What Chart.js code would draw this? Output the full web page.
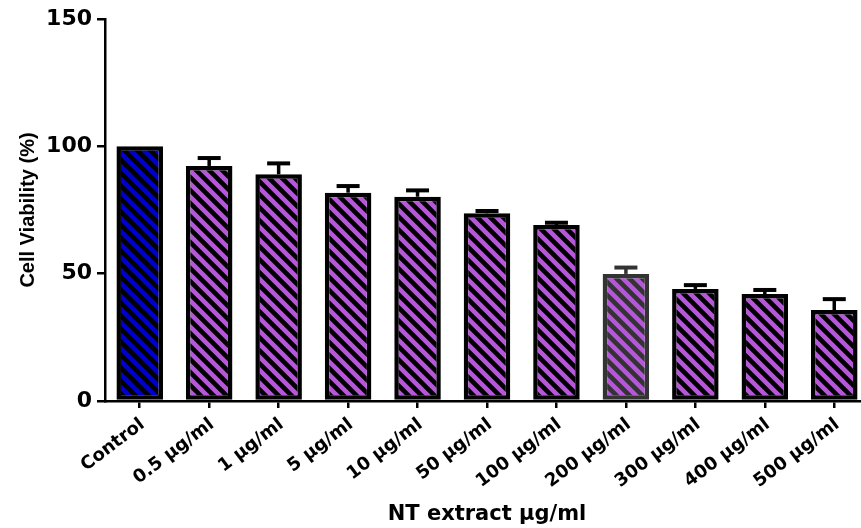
<!DOCTYPE html>
<html>
<head>
<meta charset="utf-8">
<script src="https://cdn.jsdelivr.net/npm/chart.js@4.4.0/dist/chart.umd.min.js"></script>
<style>
  html, body { margin: 0; padding: 0; background: #fff; overflow: hidden; }
  #wrap { width: 869px; height: 528px; }
</style>
</head>
<body>
<div id="wrap"><canvas id="barChart" width="869" height="528"></canvas></div>
<script>
/* data */
const doses = ["Control", "0.5 µg/ml", "1 µg/ml", "5 µg/ml", "10 µg/ml", "50 µg/ml",
               "100 µg/ml", "200 µg/ml", "300 µg/ml", "400 µg/ml", "500 µg/ml"];
const viability = [100, 92.3, 89.0, 81.8, 80.2, 73.7, 69.1, 49.9, 44.0, 42.0, 35.7];
const sdValues = [0, 3.1, 4.3, 2.6, 2.5, 0.9, 0.9, 2.5, 1.5, 1.6, 4.3];
const yTicks = [0, 50, 100, 150];

const blue = "#0000cc";
const purple = "#b656d9";

/* diagonal hatch fill, like the prism bars */
const stripes = (bg, line) => {
    const n = 13;
    const c = document.createElement('canvas');
    c.width = n; c.height = n;
    const g = c.getContext('2d');
    g.fillStyle = bg;
    g.fillRect(0, 0, n, n);
    g.strokeStyle = line;
    g.lineWidth = 4.6;
    g.beginPath();
    g.moveTo(-n / 2, n / 2); g.lineTo(n / 2, n * 1.5);
    g.moveTo(0, 0); g.lineTo(n, n);
    g.moveTo(n / 2, -n / 2); g.lineTo(n * 1.5, n / 2);
    g.stroke();
    return g.createPattern(c, 'repeat');
}

const edgeColors = doses.map((d, i) => i === 7 ? "#333333" : "#000000");
const fills = doses.map((d, i) => stripes(i === 0 ? blue : purple, edgeColors[i]));

const errorBars = {
    id: 'errorBars',
    afterDatasetsDraw(chart) {
        const ctx = chart.ctx;
        const y = chart.scales.y;
        chart.getDatasetMeta(0).data.forEach((bar, i) => {
            if (!sdValues[i]) return;
            const top = y.getPixelForValue(viability[i]);
            const tip = y.getPixelForValue(viability[i] + sdValues[i]);
            ctx.save();
            ctx.strokeStyle = edgeColors[i];
            ctx.lineWidth = 3.5;
            ctx.beginPath();
            ctx.moveTo(bar.x, top);
            ctx.lineTo(bar.x, tip);
            ctx.stroke();
            ctx.lineWidth = 4;
            ctx.beginPath();
            ctx.moveTo(bar.x - 11.5, tip);
            ctx.lineTo(bar.x + 11.5, tip);
            ctx.stroke();
            ctx.restore();
        });
    }
};

const font = "'DejaVu Sans', sans-serif";
const ctx = document.getElementById('barChart').getContext('2d');

new Chart(ctx, {
    type: "bar",
    data: {
        labels: doses,
        datasets: [{
            data: viability,
            backgroundColor: fills,
            borderColor: edgeColors,
            borderWidth: 4.5,
            borderSkipped: false,
            categoryPercentage: 1,
            barPercentage: 0.67
        }]
    },
    plugins: [errorBars],
    options: {
        responsive: false,
        animation: false,
        layout: { padding: { top: 19, right: 0, left: 0, bottom: 0 } },
        plugins: {
            legend: { display: false },
            tooltip: { enabled: false }
        },
        scales: {
            x: {
                offset: true,
                grid: { display: true, drawOnChartArea: false, drawTicks: true, tickLength: 7, offset: false, color: "#000", lineWidth: 2.5 },
                border: { display: true, color: "#000", width: 2.5 },
                ticks: {
                    color: "#000",
                    autoSkip: false,
                    minRotation: 37,
                    maxRotation: 37,
                    padding: 6,
                    labelOffset: 3,
                    font: { family: font, weight: "bold", size: 18 }
                },
                title: {
                    display: true,
                    text: "NT extract µg/ml",
                    color: "#000",
                    font: { family: font, weight: "bold", size: 21 },
                    padding: { top: 0, bottom: 1 }
                },
                afterFit: (s) => { s.height = 127; }
            },
            y: {
                min: 0,
                max: 150,
                afterBuildTicks: (s) => { s.ticks = yTicks.map(v => ({ value: v })); },
                grid: { display: true, drawOnChartArea: false, drawTicks: true, tickLength: 8, color: "#000", lineWidth: 2.5 },
                border: { display: true, color: "#000", width: 2.5 },
                ticks: {
                    color: "#000",
                    padding: 5,
                    font: { family: font, weight: "bold", size: 22 }
                },
                title: {
                    display: true,
                    text: "Cell Viability (%)",
                    color: "#000",
                    font: { family: "'Liberation Sans', Arial, sans-serif", weight: "bold", size: 20 },
                    padding: { top: 16, bottom: 0 }
                },
                afterFit: (s) => { s.width = 105; }
            }
        }
    }
});
</script>
</body>
</html>
